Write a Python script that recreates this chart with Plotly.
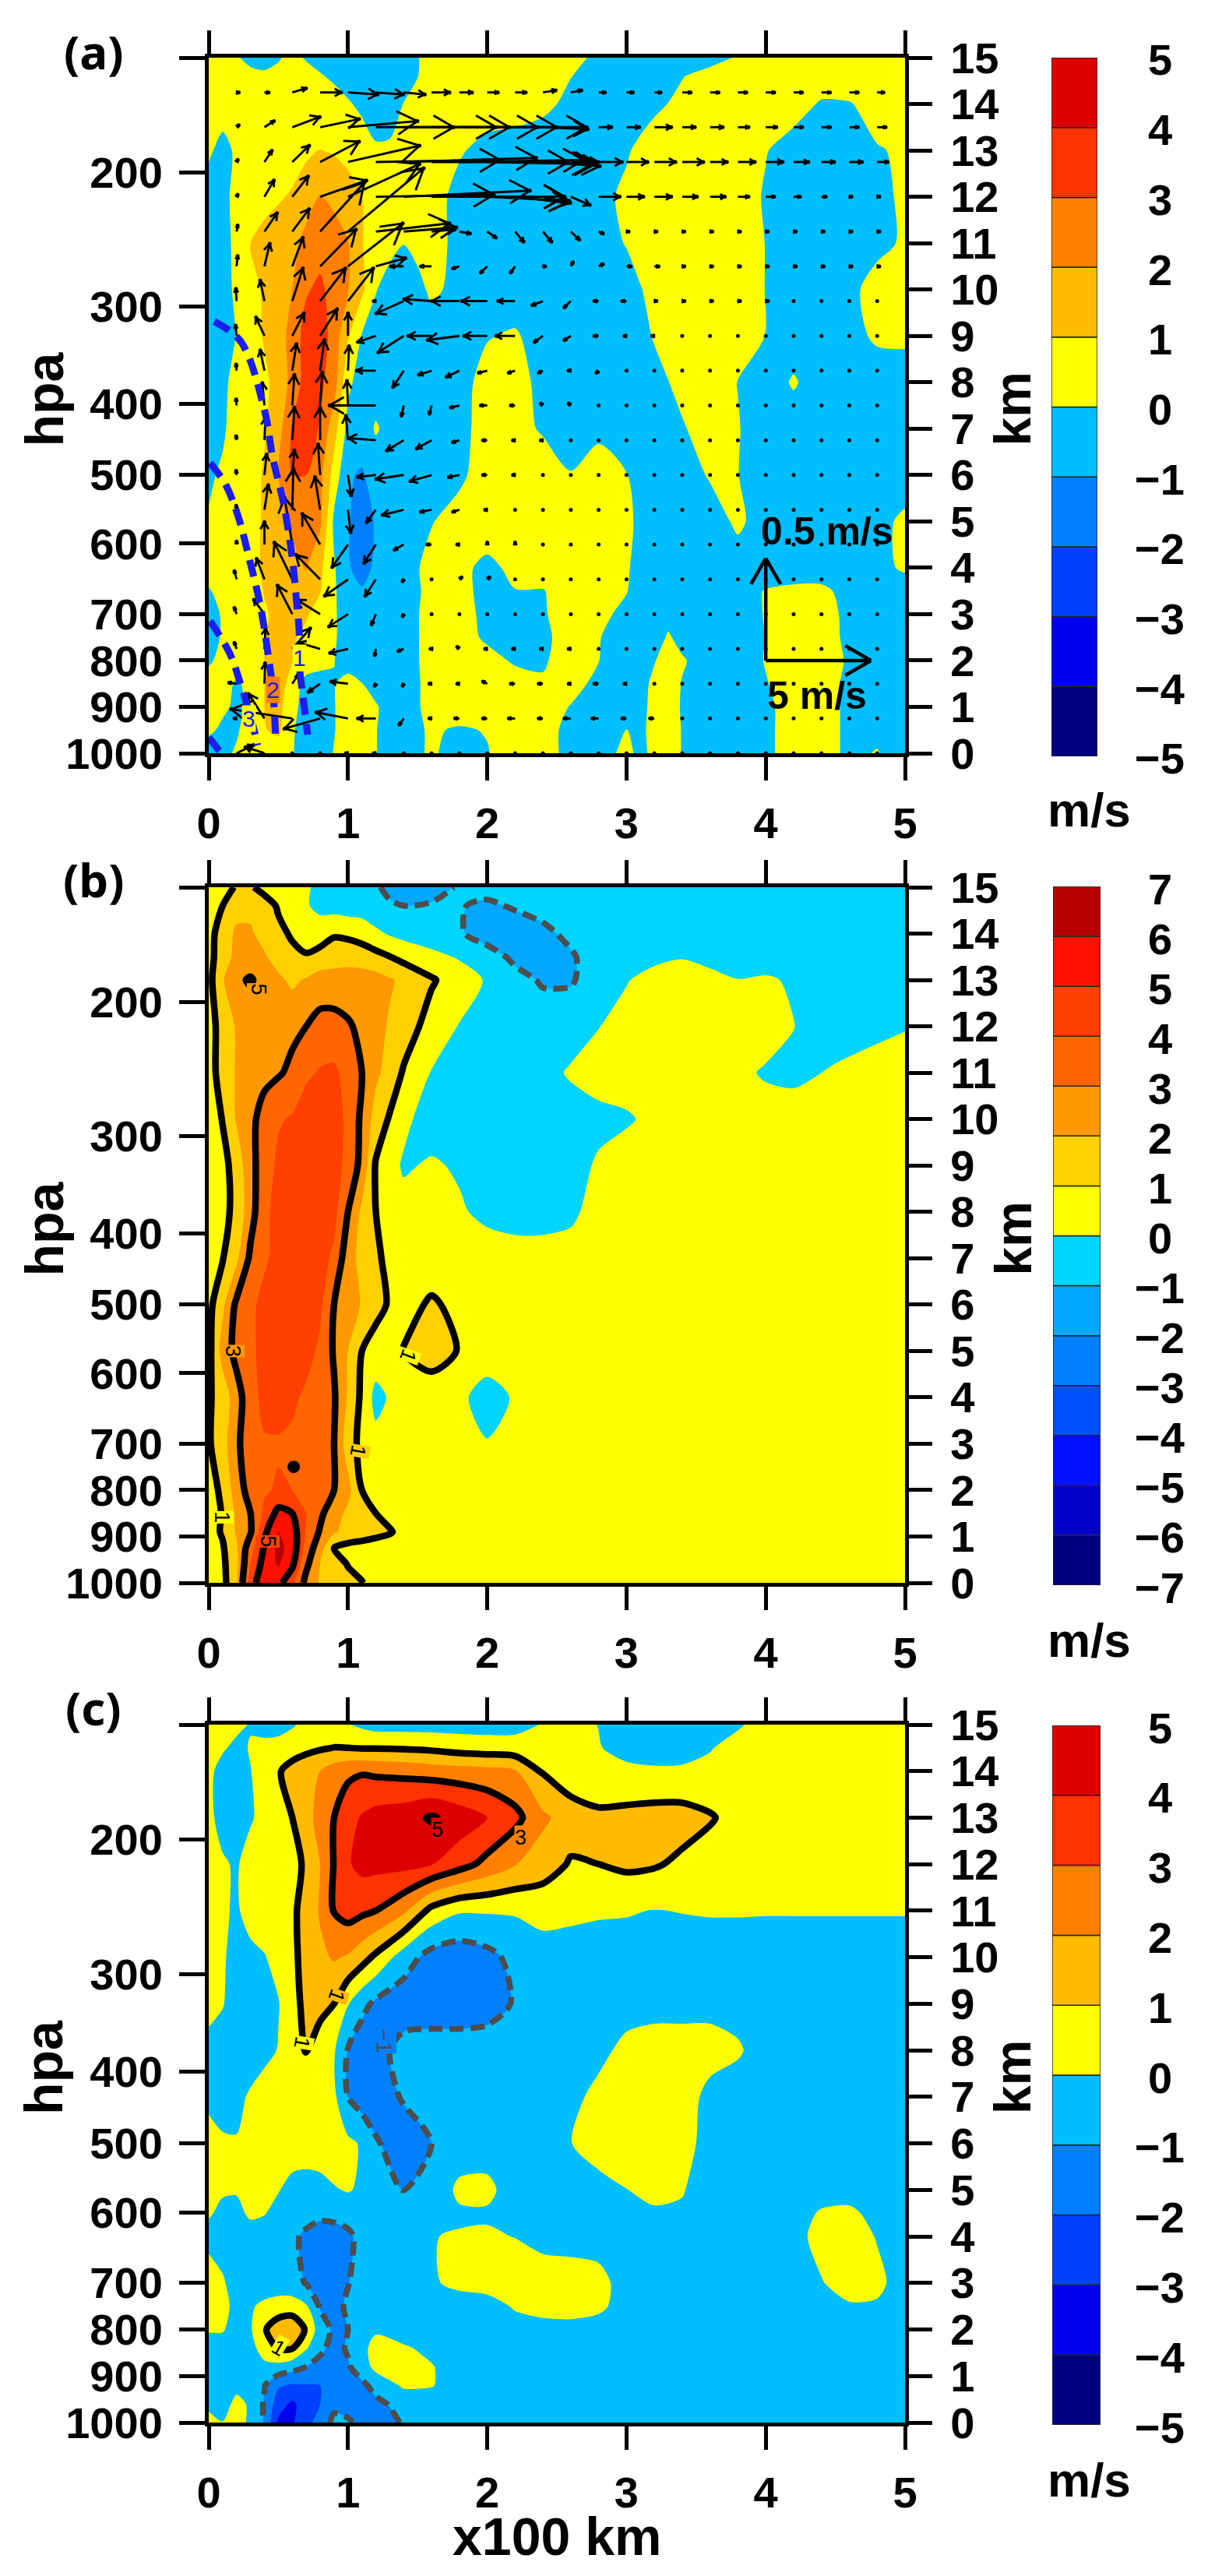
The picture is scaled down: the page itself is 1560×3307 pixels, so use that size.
import plotly.graph_objects as go

# ---------- grids (x100 km, km) ----------
XA = [0,.1,.2,.3,.4,.5,.6,.7,.8,.9, 1,1.1,1.2,1.3,1.4,1.5,1.6, 1.8,2,2.2,2.4,2.6,2.8,3, 3.1,3.2,3.3,3.4,3.6,3.8,4,4.2,4.4,4.6,4.8,5]
YA = [0,.5,1,1.5,2,2.5,3,3.5,4,5,6,7,8,9,10,11,12,13,14,14.6,15]
ZA = [
[-.3,-.2,.1,.4,.5,.4,.05,-.4,-.5,.05, .5,.4,.05,-.5,-.5,-.1,.1, -.3,-.05,.5,.4,-.3,-.5,.3, -.3,.3,.5,-.05,-.5,-.5,-.2,.4,.4,-.2,.05,-.5],
[.1,-.1,-.1,.4,.95,1.2,.1,-.4,-.5,-.05, .5,.4,.05,-.5,-.5,-.1,.1, -.1,.05,.5,.4,-.3,-.5,.02, -.2,.3,.5,-.05,-.5,-.5,-.2,.4,.4,-.2,-.2,-.5],
[.3,.1,-.1,.1,1.0,1.3,.3,-.4,-.5,-.05, .5,.4,.1,-.4,-.5,-.1,.4, .5,.5,.5,.5,-.05,-.5,-.5, -.3,.3,.5,-.1,-.5,-.5,-.2,.4,.4,-.2,-.5,-.5],
[.3,.3,-.1,.2,1.0,1.6,.5,-.3,-.5,-.05, .3,.02,-.4,-.5,-.5,-.1,.4, .5,.5,.5,.1,.4,-.3,-.5, -.3,.2,.5,-.05,-.5,-.5,-.05,.4,.4,-.2,-.5,-.5],
[-.1,.2,.4,.4,1.0,1.4,1.05,.5,.4,.02, -.4,-.5,-.5,-.5,-.5,-.05,.4, .5,.4,-.15,-.1,.4,.02,-.5, -.5,-.05,.4,.1,-.5,-.5,.05,.4,.4,-.1,-.5,-.5],
[-.2,.05,.3,.4,.95,1.5,1.1,.8,.5,.1, -.4,-.5,-.5,-.5,-.5,-.05,.4, .5,-.2,-.3,-.2,.4,.05,-.5, -.5,-.4,.1,-.3,-.5,-.5,.02,.4,.4,-.2,-.5,-.5],
[-.2,.05,.4,.5,.9,1.2,1.1,1.1,.6,.1, -.4,-.5,-.5,-.5,-.5,-.05,.4, .3,-.2,-.4,-.1,.5,.3,-.3, -.5,-.5,-.3,-.5,-.5,-.4,.05,.5,.5,-.3,-.5,-.5],
[-.05,.2,.4,.5,1.05,1.4,1.5,1.7,1.05,.1, -.5,-.9,-.5,-.5,-.5,-.1,.3, .3,-.3,-.02,-.05,.5,.5,.05, -.5,-.5,-.5,-.5,-.5,-.4,.05,.2,.2,-.3,-.5,-.5],
[.3,.4,.5,.6,1.2,1.5,1.7,2.05,1.2,.1, -.9,-1.4,-.8,-.5,-.5,-.05,.3, .2,-.2,.2,.5,.5,.5,.1, -.3,-.5,-.5,-.5,-.5,-.5,-.5,-.5,-.5,-.5,-.3,.15],
[.05,.4,.5,.7,1.1,1.7,2.2,2.6,2.2,-.2, -.9,-1.5,-.9,-.5,-.5,-.3,-.05, .4,.5,.5,.5,.5,.5,.2, -.2,-.5,-.5,-.5,-.5,.2,-.5,-.5,-.5,-.5,-.3,.2],
[-.1,.1,.4,.6,1.1,2,3,3,2.3,.6, -.9,-1.1,-.6,-.5,-.5,-.5,-.5, -.2,.5,.5,.5,.05,.4,.02, -.4,-.5,-.5,-.5,.1,.02,-.5,-.5,-.5,-.5,-.5,-.5],
[-.3,-.1,.3,.5,.9,1.6,3.1,3.6,2.9,1.4, -.3,-.5,.1,-.3,-.5,-.5,-.5, -.3,.4,.3,-.1,-.5,-.2,-.2, -.5,-.5,-.4,-.1,.5,.05,-.5,-.5,-.5,-.5,-.5,-.5],
[-.3,-.2,.3,.5,.8,1.4,2.3,3.5,3.2,2.5, .2,-.4,-.5,-.5,-.5,-.5,-.4, -.3,.3,.4,-.3,-.5,-.5,-.5, -.4,-.2,-.02,.3,.4,-.02,-.5,.1,-.5,-.5,-.5,-.5],
[-.3,-.2,.02,.5,1.1,1.5,2.4,3.4,3.5,2.6, 1.1,-.05,-.4,-.5,-.5,-.5,-.5, -.5,-.05,.1,-.4,-.5,-.5,-.3, -.2,.05,.4,.5,.5,.5,-.02,-.5,-.5,-.3,.15,.2],
[-.3,-.2,.1,.5,1.2,1.6,2,2.9,3.2,2.6, 2.05,1.2,.05,-.4,-.5,-.3,.2, -.3,-.5,-.5,-.5,-.5,-.5,-.4, -.05,.3,.4,.5,.5,.5,-.02,-.5,-.5,-.2,.3,.4],
[-.3,-.3,.2,1.05,1.3,1.5,1.7,2.3,2.6,2.4, 2.05,1.05,.5,.3,.02,.3,.4, -.3,-.5,-.5,-.5,-.5,-.4,.05, .4,.5,.5,.5,.5,.5,-.02,-.5,-.5,-.5,-.2,.1],
[-.3,-.2,.2,.5,.7,.9,1.1,1.6,2.05,1.8, 1.4,1,.6,.5,.5,.5,.4, -.3,-.5,-.5,-.5,-.5,-.3,.2, .4,.5,.5,.5,.5,.5,-.1,-.5,-.5,-.5,-.3,.2],
[.1,-.2,.1,.5,.5,.5,.6,.8,1.02,.9, .7,.5,.1,.1,.4,.5,.5, .1,-.3,-.5,-.5,-.5,-.4,-.1, .2,.5,.5,.5,.5,.5,.05,-.4,-.5,-.5,-.05,.1],
[.4,.3,.3,.5,.5,.5,.5,.5,.5,.5, .1,-.2,-.4,-.3,.02,.4,.5, .3,.5,.5,.2,-.2,-.5,-.5, -.4,-.2,.02,.3,.5,.5,.5,.4,-.1,-.05,.3,.5],
[.5,.5,.5,.3,.2,.3,.5,.4,.1,-.2, -.4,-.5,-.5,-.5,-.4,-.02,.4, .5,.5,.5,.3,.02,-.4,-.5, -.5,-.5,-.5,-.05,.4,.5,.5,.5,.5,.5,.5,.5],
[.5,.5,.1,-.3,-.4,-.1,.3,-.1,-.4,-.5, -.5,-.5,-.5,-.5,-.5,-.05,.4, .5,.5,.5,.5,.3,-.2,-.5, -.5,-.5,-.5,-.5,-.4,.1,.5,.5,.5,.5,.5,.5],
]

XB = [0,.1,.2,.3,.4,.5,.6,.7,.8,.9, 1,1.1,1.2,1.3,1.4,1.6, 1.8,2,2.2,2.4,2.6,2.8,3, 3.2,3.4,3.6,3.8,4,4.2,4.5,5]
YB = [0,.4,.75,1.1,1.5,2,3,4,5,6,7,8,9,10,11,12,13,13.5,14,14.6,15]
ZB = [
[.5,.7,1.9,4.5,5.8,5.3,4.2,2.7,1.9,1.5, 1.3,1.05,.5,.4,.3,.3, .3,.3,.3,.3,.3,.3,.3, .3,.3,.3,.3,.3,.3,.3,.3],
[.5,.8,1.8,4,5.4,6.1,5.2,3.2,2,1.5, .95,.6,.4,.4,.4,.4, .4,.4,.4,.4,.4,.4,.4, .4,.4,.4,.4,.4,.4,.4,.4],
[.5,.9,1.9,3.6,5.1,6.3,5.6,3.6,2.4,1, .7,.6,.5,.4,.4,.4, .4,.4,.4,.4,.4,.4,.4, .4,.4,.4,.4,.4,.4,.4,.4],
[.6,1.1,2.1,2.9,4.8,6,5.5,3.9,2.9,2.1, 1.7,1.5,1.3,1.1,.6,.4, .4,.4,.4,.4,.4,.4,.4, .4,.4,.4,.4,.4,.4,.4,.4],
[.6,1.05,2.2,3,4.2,5.3,5,4,3.2,2.4, 1.8,1.4,1,.6,.5,.4, .4,.4,.4,.4,.4,.4,.4, .4,.4,.4,.4,.4,.4,.4,.4],
[.6,1.2,2.5,3.4,3.9,4.1,4,3.9,3.4,3, 2.3,1,.5,.4,.4,.4, .4,.4,.4,.4,.4,.4,.4, .4,.4,.4,.4,.4,.4,.4,.4],
[.9,1.6,2.8,3.6,3.9,3.9,3.8,3.7,3.4,3, 1.5,.7,.3,.4,.4,.4, .4,.05,.4,.4,.4,.4,.4, .4,.4,.4,.4,.4,.4,.4,.4],
[.9,1.4,2.6,3.6,4.3,4.4,4.2,3.8,3.5,3.1, 1.9,.8,-.3,.1,.4,.5, .2,-.4,.1,.4,.4,.4,.4, .4,.4,.4,.4,.4,.4,.4,.4],
[.7,2.4,3.3,3.8,4.3,4.5,4.6,4.4,3.8,2.9, 2,1,.6,.7,1.05,1.4, .95,.5,.4,.4,.4,.4,.4, .4,.4,.4,.4,.4,.4,.4,.4],
[.7,1.8,3.2,3.7,4.4,4.6,4.7,4.6,4.2,3, 2.6,1.9,1.3,.9,.6,1.15, .7,.5,.4,.4,.4,.4,.4, .4,.4,.4,.4,.4,.4,.4,.4],
[.5,.95,1.8,3.2,3.8,4.4,4.6,4.6,4.4,3.8, 2.4,1.7,1.2,.7,.5,.4, .4,.4,.4,.4,.4,.4,.4, .4,.4,.4,.4,.4,.4,.4,.4],
[.4,.7,1.3,2.6,3.8,4.3,4.5,4.6,4.6,4.3, 3,1.8,1,.6,.3,.2, .1,-.2,-.4,-.4,-.2,.4,.4, .4,.4,.4,.4,.4,.4,.4,.4],
[.3,.7,1.4,2.7,3.5,4.2,4.5,4.7,4.7,4.4, 3.7,2.7,.9,.3,-.1,.1, -.1,-.4,-.4,-.4,-.3,.1,.4, .4,.4,.4,.4,.4,.4,.4,.4],
[.3,1.05,2.1,2.8,3.3,3.9,4.1,4.6,4.7,4.4, 3.8,2.8,1.6,.9,.2,-.4, -.5,-.5,-.5,-.5,-.4,-.2,-.1, .2,.4,.4,.4,.4,.4,.4,.4],
[.7,1.3,2.1,2.5,2.8,2.9,3.2,3.8,4.1,4.2, 3.6,3,2.2,1.6,.9,-.05, -.3,-.5,-.5,-.3,.1,.3,.4, .4,.4,.4,.2,-.1,-.2,.1,.4],
[.6,1.4,2.1,2.3,2.5,2.7,2.8,3,3.3,3.3, 3.1,2.8,2.3,1.9,1.5,.6, -.05,-.4,-.5,-.5,-.4,-.02,.3, .4,.4,.4,.4,.4,.02,-.4,-.05],
[.7,1.9,2.8,3.1,2.6,2.2,1.8,2.1,2.5,2.5, 2.5,2.5,2.4,2.1,1.8,1.1, .5,-.1,-.7,-1.1,-1.1,-.5,-.05, .3,.4,.2,.02,.1,-.1,-.5,-.5],
[.7,1.5,2.3,2.4,2.1,1.6,1.2,1.1,1.3,1.5, 1.6,1.5,1.3,1.02,.7,.3, -.1,-.6,-1.2,-1.4,-1.1,-.6,-.4, -.2,-.05,-.2,-.4,-.4,-.5,-.5,-.5],
[.7,1.4,2.2,2.1,1.7,1.2,.9,.5,.6,.9, .8,.6,.2,-.1,-.3,-.6, -.9,-1.4,-1.5,-1.2,-.8,-.5,-.5, -.5,-.5,-.5,-.5,-.5,-.5,-.5,-.5],
[.6,1,1.6,1.8,1.4,.9,.5,.1,-.3,-.4, -.5,-.5,-.7,-.9,-1,-.9, -.95,-1.15,-.9,-.7,-.5,-.5,-.5, -.5,-.5,-.5,-.5,-.5,-.5,-.5,-.5],
[.4,.6,1.1,1.1,.7,.5,.3,.1,-.2,-.4, -.5,-.6,-.9,-1.2,-1.4,-1.4, -.9,-.7,-.5,-.5,-.5,-.5,-.5, -.5,-.5,-.5,-.5,-.5,-.5,-.5,-.5],
]

XC = [0,.1,.2,.3,.4,.5,.6,.7,.8,.9, 1,1.1,1.2,1.4,1.6, 1.8,2,2.2,2.4,2.6,2.8,3, 3.2,3.4,3.6,3.8,4,4.2,4.4,4.6,4.8,5]
YC = [0,.4,.8,1.2,1.6,2,2.5,3,4,4.5,5,6,7,8,9,10,11,12,13,14,14.5,15]
ZC = [
[.3,.02,.2,-.1,-1.1,-3.2,-3.1,-2.4,-1.5,-.8, -.9,-1.2,-1.3,-.95,-.5, -.4,-.4,-.4,-.4,-.4,-.4,-.4, -.4,-.4,-.4,-.4,-.4,-.4,-.4,-.4,-.4,-.4],
[-.2,-.3,.2,-.1,-1.1,-2.5,-3.2,-2.5,-2,-1.2, -1.3,-1.5,-1.2,-.7,-.4, -.4,-.4,-.4,-.4,-.4,-.4,-.4, -.4,-.4,-.4,-.4,-.4,-.4,-.4,-.4,-.4,-.4],
[-.4,-.4,-.2,-.5,-.95,-1.9,-2.1,-2.05,-2,-1.7, -1.5,-1.2,-.7,.15,.05, -.4,-.4,-.4,-.4,-.4,-.4,-.4, -.4,-.4,-.4,-.4,-.4,-.4,-.4,-.4,-.4,-.4],
[-.5,-.5,-.5,-.4,-.2,-.3,-.6,-1,-1.3,-1.3, -1.1,-.5,.3,.4,.05, -.4,-.4,-.4,-.4,-.4,-.4,-.4, -.4,-.4,-.4,-.4,-.4,-.4,-.4,-.4,-.4,-.4],
[-.5,-.5,-.5,-.3,.4,1.1,1.05,.1,-.8,-1.3, -.9,-.2,.25,.1,-.2, -.4,-.4,-.4,-.4,-.4,-.4,-.4, -.4,-.4,-.4,-.4,-.4,-.4,-.4,-.4,-.4,-.4],
[.1,.1,-.5,-.1,.9,1.6,1.7,.9,-.5,-1.2, -1,-.5,-.1,-.4,-.4, -.4,-.4,-.4,-.4,-.4,-.4,-.4, -.4,-.4,-.4,-.4,-.4,-.4,-.4,-.4,-.4,-.4],
[.5,.3,-.3,-.1,.2,.4,.5,.1,-1.1,-1.4, -.8,-.5,-.4,-.4,-.4, -.4,-.4,.1,.4,.5,.2,-.4, -.4,-.4,-.4,-.4,-.4,-.4,-.4,-.1,-.1,-.4],
[.5,.1,-.4,-.5,-.5,-.5,-.7,-1.05,-1.4,-1.5, -1.05,-.5,-.4,-.2,-.1, .2,.4,.5,.5,.5,.3,-.4, -.4,-.4,-.4,-.4,-.4,-.4,-.05,.4,.2,-.4],
[-.3,-.4,-.5,-.5,-.5,-.5,-.8,-1.2,-1.6,-1.6, -1.3,-.5,-.4,-.3,-.02, .05,.1,-.02,-.3,-.4,-.4,-.4, -.4,-.4,-.4,-.4,-.4,-.3,.3,.4,-.05,-.4],
[.1,-.2,-.3,.2,.05,-.3,-.5,-.6,-.7,-.6, -.4,-.4,-.5,-.4,-.2, -.1,-.1,-.3,-.4,-.4,-.4,-.4, -.2,-.1,-.4,-.4,-.4,-.4,.1,.2,-.3,-.4],
[.3,.1,.1,.3,.3,.05,-.3,-.4,-.3,-.05, .05,-.1,-.5,-1.05,-.5, .15,.2,-.4,-.4,-.4,-.3,-.02, .4,.05,-.4,-.4,-.4,-.4,-.4,-.4,-.4,-.4],
[.5,.1,.05,.4,.5,.5,.5,.5,.5,.4, .2,-.1,-.9,-1.5,-1, -.4,-.4,-.4,-.4,-.02,.4,.5, .5,.4,-.4,-.4,-.4,-.4,-.4,-.4,-.4,-.4],
[-.3,-.3,-.2,.1,.5,.5,.5,.5,.5,.2, -1,-1.5,-1.5,-.9,-.4, -.4,-.4,-.4,-.4,-.2,.2,.5, .5,.5,-.3,-.4,-.4,-.4,-.4,-.4,-.4,-.4],
[-.4,-.4,-.4,-.4,-.3,.05,.4,1.05,.5,.1, -1.05,-1.6,-1.4,-.6,-.4, -.4,-.4,-.4,-.4,-.4,-.2,.2, .4,.4,.4,.1,-.4,-.4,-.4,-.4,-.4,-.4],
[.4,.05,-.4,-.4,-.3,-.05,.6,1.3,1.3,1, .05,-.7,-1.2,-1.6,-1.7, -1.7,-1.5,-.9,-.4,-.4,-.4,-.3, -.3,-.3,-.3,-.3,-.3,-.3,-.3,-.3,-.3,-.3],
[.5,.1,-.3,-.2,-.05,.3,.8,1.3,1.8,2.1, 1.9,1.4,.8,-.5,-1.4, -1.6,-1.3,-.7,-.4,-.4,-.4,-.3, -.3,-.3,-.3,-.3,-.3,-.3,-.3,-.3,-.3,-.3],
[.4,.1,-.1,.3,.5,.5,.8,1.4,2.1,3.05, 3.4,3.2,3,2.2,.7, .1,.1,.1,.3,.2,.1,.05, -.02,.02,.05,.05,.04,.04,.04,.04,.04,.04],
[.3,.1,-.1,.4,.5,.5,.8,1.1,2,3.05, 3.9,4.3,4.3,4.3,4.05, 3.4,2.7,2.05,1.5,.9,1,1.2, 1.1,.8,.5,.4,.3,.3,.3,.3,.3,.3],
[.2,-.3,-.4,-.1,.3,.6,1,1.6,2.4,3, 3.6,4.1,4.4,4.6,5.1, 4.6,4,3.3,2.2,1.5,1.2,1.3, 1.4,1.4,1.1,.6,.4,.3,.3,.3,.3,.3],
[.2,-.3,-.4,-.02,.3,.9,1.4,1.8,2,2.5, 2.8,2.9,2.8,2.7,2.5, 2.4,2.3,2.1,.9,.4,.3,.2, .15,.15,.2,.3,.3,.3,.3,.3,.3,.3],
[.3,.1,-.2,.05,.3,.4,.5,.7,.9,1.02, 1,.95,.95,.9,.8, .6,.5,.4,.3,.3,.05,-.3, -.5,-.4,-.05,.3,.4,.4,.4,.4,.4,.4],
[.4,.3,.2,-.05,-.4,-.4,-.1,.2,.3,.2, .05,-.2,-.4,-.4,-.4, -.4,-.4,-.3,.05,.3,-.02,-.4, -.5,-.5,-.4,-.1,.3,.4,.4,.4,.4,.4],
]

# ---------- vectors in panel (a): m/s, rows top to bottom ----------
VX = [.2,.4,.6,.8,1,1.2,1.4,1.6,1.8,2,2.2,2.4,2.6,2.8,3,3.2,3.4,3.6,3.8,4,4.2,4.4,4.6,4.8]
VY = [14.25,13.5,12.75,12,11.25,10.5,9.75,9,8.25,7.5,6.75,6,5.25,4.5,3.75,3,2.25,1.5,.75,0]
U = [
[.1,.2,.65,1,1.4,1.3,1,.85,.6,.5,.5,.6,.5,.3,.3,.3,.4,.4,.4,.4,.4,.4,.4,.3],
[.1,.45,1.3,1.85,3.3,3.7,4.4,3.7,3.7,3.3,3.4,2.1,.8,.6,.6,.8,.6,.6,.5,.5,.4,.4,.4,.4],
[.05,.35,.8,1.85,3.4,5.9,6.3,6.5,5.9,5,3.8,2.7,1.3,1.1,1,1,1,.8,.8,.8,.7,.6,.6,.5],
[.05,.45,.75,2.2,3.4,5.6,6,6.3,5,3.9,2.5,1.3,.9,1,.8,.8,.7,.7,.5,.4,.3,.2,.1,.1],
[.05,.6,.8,2.1,3.6,3.5,2.5,1.1,.5,.4,.4,.4,.4,.2,.1,.1,.1,.1,.1,.1,.1,.1,.1,.1],
[.05,.25,.5,1.7,2.6,1.4,-.6,-.5,-.3,-.3,-.2,.1,.1,.2,.2,.2,.1,.1,.1,.1,.1,.1,.1,.1],
[-.03,-.2,.5,1.2,1.2,-.1,-1.3,-1.3,-1.3,-1.2,-.8,-.5,-.3,-.2,-.2,.1,.1,.1,.1,.1,0,0,0,0],
[-.05,-.4,.55,.8,0,-.85,-1.2,-1.1,-1.5,-1.1,-.9,-.4,-.3,-.2,-.1,-.1,0,0,0,0,0,0,0,0],
[-.02,-.2,.2,.2,.05,-.9,-.5,-.6,-.6,-.4,-.3,-.2,-.1,-.1,0,0,0,0,0,0,0,0,0,0],
[-.02,-.1,.1,.1,-.05,-2.2,-.1,-.1,-.4,-.3,-.2,-.1,-.1,0,0,0,0,0,0,0,0,0,0,0],
[-.02,.05,.1,0,-.1,-1.3,-.8,-.7,-.3,-.2,-.1,-.1,0,0,0,0,0,0,0,0,0,0,0,0],
[-.02,.1,.1,-.1,.15,-.85,-1.3,-1,-.5,-.2,-.1,0,0,0,0,0,0,0,0,0,0,0,0,0],
[-.02,.18,.05,-.25,.12,-.43,-1,-.5,-.3,-.1,0,0,0,0,0,0,0,0,0,0,0,0,0,0],
[0,0,-.37,-.85,-.75,-.55,-.43,-.2,-.1,0,0,0,0,0,0,0,0,0,0,0,0,0,0,0],
[-.1,-.37,-.85,-1.15,-1.1,-.5,-.05,0,.1,.1,0,0,0,0,0,0,0,0,0,0,0,0,0,0],
[-.1,-.5,-.7,-1.1,-.9,-.2,-.05,0,0,0,0,0,0,0,0,0,0,0,0,0,0,0,0,0],
[-.1,.05,.85,-1,-.85,-.05,-.25,-.05,-.1,-.1,-.1,-.1,-.1,0,0,0,0,0,0,0,0,0,0,0],
[-.35,.03,.25,-.55,-.8,-.05,-.05,-.1,-.1,-.2,-.2,-.2,-.1,-.2,-.1,0,0,0,0,0,0,0,0,0],
[-.1,-.75,-2.9,-1.7,-1.5,-.85,-.2,-.1,-.2,-.2,-.3,-.2,-.3,-.3,-.2,-.2,0,0,0,0,0,0,0,0],
[.8,-.9,0,0,-.1,-.1,0,0,0,0,0,0,0,0,0,0,0,0,0,0,0,0,0,0],
]
W = [
[0,0,.02,0,-.01,-.01,-.01,0,0,0,0,.01,.01,0,0,0,0,0,0,0,0,0,0,0],
[.01,.03,.05,.04,.03,0,0,0,0,0,0,-.01,-.01,0,0,0,0,0,0,0,0,0,0,0],
[.01,.055,.08,.1,.08,.01,.02,0,.01,-.01,-.01,-.02,0,0,0,0,0,0,0,0,0,0,0,0],
[.01,.08,.1,.08,.16,.01,.03,0,0,-.02,-.03,-.03,-.04,0,0,0,0,0,0,0,0,0,0,0],
[.03,.09,.11,.24,.31,.04,.02,.01,-.01,-.03,-.05,-.05,-.04,-.01,0,0,0,0,0,0,0,0,0,0],
[.05,.11,.14,.18,.21,.04,0,0,-.01,-.03,-.03,0,.02,.01,0,0,0,0,0,0,0,0,0,0],
[.06,.1,.16,.16,.16,0,-.06,.01,0,0,0,-.02,-.03,0,0,0,0,0,0,0,0,0,0,0],
[.05,.09,.11,.13,.11,-.03,-.08,0,-.02,0,0,-.03,-.02,0,0,0,0,0,0,0,0,0,0,0],
[.03,.1,.13,.15,.12,0,-.08,-.02,-.03,-.01,-.01,-.01,0,-.01,0,0,0,0,0,0,0,0,0,0],
[.03,.11,.15,.16,.12,0,-.05,-.04,-.01,0,0,.01,.01,0,0,0,0,0,0,0,0,0,0,0],
[.02,.11,.16,.16,.12,.01,-.05,-.04,-.01,0,0,0,0,0,0,0,0,0,0,0,0,0,0,0],
[.02,.1,.12,.15,-.1,-.01,-.02,-.03,-.01,0,0,0,0,0,0,0,0,0,0,0,0,0,0,0],
[.02,.12,.2,.16,-.11,-.06,-.025,-.01,-.01,0,0,0,0,0,0,0,0,0,0,0,0,0,0,0],
[.015,.11,.23,.15,-.11,-.09,-.025,0,0,.01,.01,0,0,0,0,0,0,0,0,0,0,0,0,0],
[.04,.1,.18,.12,-.08,-.08,-.01,0,.01,.01,0,0,0,0,0,0,0,0,0,0,0,0,0,0],
[.03,.07,.14,.07,-.06,-.05,-.01,0,0,0,0,0,0,0,0,0,0,0,0,0,0,0,0,0],
[.03,.1,.1,.03,-.02,-.03,-.01,0,.01,0,0,0,0,0,0,0,0,0,0,0,0,0,0,0],
[.005,.1,.04,-.04,.01,-.01,-.01,0,0,.01,0,0,0,0,0,0,0,0,0,0,0,0,0,0],
[0,.12,.045,-.05,.03,0,-.03,0,0,0,0,0,0,0,0,0,0,0,0,0,0,0,0,0],
[.04,.03,0,0,0,0,0,0,0,0,0,0,0,0,0,0,0,0,0,0,0,0,0,0],
]
REF_X, REF_Y, REF_U, REF_W = [4, 4], [2, 2], [5, 0], [0, .5]

# dashed blue lines in panel (a)
BL1X = [.04,.23,.40,.46,.54,.6,.63,.65,.65,.68,.71]
BL1Y = [9.31,8.88,7.40,6.37,5.35,4.21,3.3,2.6,1.94,1.14,.4]
BL2X = [.01,.12,.21,.29,.37,.43,.46,.48]
BL2Y = [6.26,5.8,5.12,4.21,3.19,2.05,1.37,.4]
BL3X = [.01,.15,.23,.32,.35]
BL3Y = [2.85,2.16,1.48,.57,.17]
BL4X = [0,.09]
BL4Y = [.34,0]

# ---------- axes labels and colours ----------
KM_TICKS = list(range(0, 16))
HPA_POS = [0,1,2,3,4.52,6.01,7.54,9.63,12.53,15]
HPA_TXT = ["1000","900","800","700","600","500","400","300","200",""]
X_TICKS = [0,1,2,3,4,5]
COL10 = ["#000080","#0000F0","#0040FF","#0080FF","#00BFFF","#FFFF00","#FFBB00","#FF8000","#FF3300","#DD0000"]
COL14 = ["#000080","#0000C8","#0010FF","#0050FF","#0080FF","#00A8FF","#00D5FF","#FFFF00","#FFD000","#FF9900","#FF6600","#FF4000","#FF1000","#B80000"]
LV5 = list(range(-5, 6))
LV7 = list(range(-7, 8))

W_PX, H_PX = 1560, 3307
FONT = "Liberation Sans"
X0, X1 = 268, 1162
PANELS = [
    dict(name="(a)", xa="x", yl="y", yr="y2", xb="x4", yb="y7", top=74, bot=967, X=XA, Y=YA, Z=ZA, cols=COL10, lv=LV5, lab_y=66, bx=(1350,1409), by=(74,971)),
    dict(name="(b)", xa="x2", yl="y3", yr="y4", xb="x5", yb="y8", top=1139, bot=2032, X=XB, Y=YB, Z=ZB, cols=COL14, lv=LV7, lab_y=1129, bx=(1352,1413), by=(1138,2035)),
    dict(name="(c)", xa="x3", yl="y5", yr="y6", xb="x6", yb="y9", top=2214, bot=3110, X=XC, Y=YC, Z=ZC, cols=COL10, lv=LV5, lab_y=2192, bx=(1351,1413), by=(2215,3113)),
]
for Pn in PANELS:
    for r in Pn["Z"]:
        assert len(r) == len(Pn["X"]), (Pn["name"], len(r))
    assert len(Pn["Z"]) == len(Pn["Y"])

def px(x): return x / W_PX
def py(y): return 1 - y / H_PX
def key(a):
    return ("xaxis" if a[0] == "x" else "yaxis") + a[1:]

fig = go.Figure()
ann = []
def txt(x, y, s, size=56, angle=0, xanchor="center", bold=True, family=FONT, color="black"):
    ann.append(dict(x=px(x), y=py(y), xref="paper", yref="paper", text=s, showarrow=False,
                    xanchor=xanchor, yanchor="middle", textangle=angle,
                    font=dict(family=family, size=size, color=color, weight="bold" if bold else "normal")))
def clabel(xa, ya, x, y, s, bg, angle=90, color="black", size=27):
    ann.append(dict(x=x, y=y, xref=xa, yref=ya, text=s, showarrow=False, textangle=angle, bgcolor=bg,
                    borderpad=0, font=dict(family=FONT, size=size, color=color)))

layout = dict(width=W_PX, height=H_PX, margin=dict(l=0, r=0, t=0, b=0, autoexpand=False), paper_bgcolor="white",
              plot_bgcolor="white", showlegend=False, hovermode=False, barmode="overlay")

for i, Pn in enumerate(PANELS):
    top, bot = Pn["top"], Pn["bot"]
    lv, cols = Pn["lv"], Pn["cols"]
    nc = len(lv)
    scale = [[0, cols[0]]] + [[(k + 1) / nc, c] for k, c in enumerate(cols)] + [[1, cols[-1]]]
    xa, yl, yr = Pn["xa"], Pn["yl"], Pn["yr"]
    fig.add_trace(go.Contour(x=Pn["X"], y=Pn["Y"], z=Pn["Z"], xaxis=xa, yaxis=yl, colorscale=scale, autocontour=False,
                             contours=dict(coloring="fill", showlines=False, start=lv[0], end=lv[-1], size=1),
                             line=dict(width=0, smoothing=.8), showscale=False, hoverinfo="skip"))
    if i > 0:
        fig.add_trace(go.Contour(x=Pn["X"], y=Pn["Y"], z=Pn["Z"], xaxis=xa, yaxis=yl, autocontour=False, showscale=False,
                                 contours=dict(coloring="none", start=1, end=5, size=2),
                                 line=dict(color="black", width=8.5, smoothing=.8), hoverinfo="skip"))
        fig.add_trace(go.Contour(x=Pn["X"], y=Pn["Y"], z=Pn["Z"], xaxis=xa, yaxis=yl, autocontour=False, showscale=False,
                                 contours=dict(coloring="none", start=-1, end=-1, size=1),
                                 line=dict(color="#4d4d4d", width=7.5, dash="18px,9px", smoothing=.8), hoverinfo="skip"))
    # dummy trace so that the right-hand km axis is drawn
    fig.add_trace(go.Scatter(x=[0], y=[0], xaxis=xa, yaxis=yr, mode="markers", marker=dict(opacity=0, size=1), hoverinfo="skip"))

    # colour bar as a stack of bands
    xb, yb = Pn["xb"], Pn["yb"]
    for k, c in enumerate(cols):
        fig.add_trace(go.Bar(x=[0], y=[1], base=[lv[k]], width=[1], xaxis=xb, yaxis=yb, marker=dict(color=c, line=dict(color="#262626", width=1.5)), hoverinfo="skip"))
    layout[key(xb)] = dict(domain=[px(Pn["bx"][0]), px(Pn["bx"][1])], range=[-.5, .5], anchor=yb, visible=False)
    layout[key(yb)] = dict(domain=[py(Pn["by"][1]), py(Pn["by"][0])], range=[lv[0], lv[-1]], anchor=xb, visible=False)

    dom_y = [py(bot), py(top)]
    tfont = dict(family=FONT, size=56, color="black", weight="bold")
    layout[key(xa)] = dict(domain=[px(X0), px(X1)], range=[0, 5], anchor=yl, tickmode="array", tickvals=X_TICKS,
                           ticks="outside", ticklen=30, tickwidth=5, tickcolor="black", showline=True, linecolor="black",
                           linewidth=5, mirror="ticks", tickfont=tfont, showgrid=False, zeroline=False, ticklabelstandoff=7)
    layout[key(yl)] = dict(domain=dom_y, range=[0, 15], anchor=xa, tickmode="array", tickvals=HPA_POS, ticktext=HPA_TXT,
                           ticks="outside", ticklen=33, tickwidth=5, tickcolor="black", showline=True, linecolor="black",
                           linewidth=5, tickfont=tfont, showgrid=False, zeroline=False, ticklabelstandoff=10)
    layout[key(yr)] = dict(domain=dom_y, range=[0, 15], anchor=xa, side="right", overlaying=yl, tickmode="array",
                           tickvals=KM_TICKS, ticks="outside", ticklen=30, tickwidth=5, tickcolor="black", showline=True,
                           linecolor="black", linewidth=5, tickfont=tfont, showgrid=False, zeroline=False, ticklabelstandoff=12)

    # texts
    txt(120, Pn["lab_y"], Pn["name"], size=60, family="Noto Sans", bold=True)
    txt(56, (top + bot) / 2 - 8, "hpa", size=68, angle=-90)
    txt(1300, (top + bot) / 2 + 5, "km", size=66, angle=-90)
    txt(1398, bot + 73, "m/s", size=62)
    n = len(lv) - 1
    for k, v in enumerate(lv):
        yy = Pn["by"][1] - (Pn["by"][1] - Pn["by"][0]) * k / n + 3
        txt(1489, yy, str(v).replace("-", "\u2212"), size=56)

txt(715, 3256, "x100 km", size=68)

# ---------- vectors for panel (a) ----------
SX, SY = (X1 - X0) / 5, 59.5   # pixels per x unit / per km
KU, KW = 27.0, 262.0           # pixels per m/s
def add_arrow(xs, ys, x, y, u, w, cap=30):
    dx, dy = u * KU, w * KW
    L = (dx * dx + dy * dy) ** .5
    if L < 1e-6:
        return
    head = min(max(.36 * L, 4), cap)
    ux, uy = dx / L, dy / L
    ex, ey = x + dx / SX, y + dy / SY
    xs += [x, ex, None]
    ys += [y, ey, None]
    for sgn in (1, -1):
        c, s = .866, .5 * sgn
        bx, by = -(ux * c - uy * s) * head, -(ux * s + uy * c) * head
        xs += [ex, ex + bx / SX, None]
        ys += [ey, ey + by / SY, None]

vx, vy = [], []
dx_, dy_ = [], []
for r, y in enumerate(VY):
    for c, x in enumerate(VX):
        add_arrow(vx, vy, x, y, U[r][c], W[r][c])
        dx_.append(x + U[r][c] * KU / SX)
        dy_.append(y + W[r][c] * KW / SY)
fig.add_trace(go.Scatter(x=dx_, y=dy_, xaxis="x", yaxis="y", mode="markers", marker=dict(color="black", size=5), hoverinfo="skip", cliponaxis=False))
fig.add_trace(go.Scatter(x=vx, y=vy, xaxis="x", yaxis="y", mode="lines", line=dict(color="black", width=2.9), hoverinfo="skip"))
rx, ry = [], []
for x, y, u, w in zip(REF_X, REF_Y, REF_U, REF_W):
    add_arrow(rx, ry, x, y, u, w, cap=38)
fig.add_trace(go.Scatter(x=rx, y=ry, xaxis="x", yaxis="y", mode="lines", line=dict(color="black", width=4.5), hoverinfo="skip"))
for bx, by in ((BL1X, BL1Y), (BL2X, BL2Y), (BL3X, BL3Y), (BL4X, BL4Y)):
    fig.add_trace(go.Scatter(x=bx, y=by, xaxis="x", yaxis="y", mode="lines", hoverinfo="skip",
                             line=dict(color="#1c1cf0", width=9, dash="22px,12px", shape="spline")))
ann.append(dict(x=4.44, y=4.78, xref="x", yref="y", text="0.5 m/s", showarrow=False,
                font=dict(family=FONT, size=50, color="black", weight="bold")))
ann.append(dict(x=4.37, y=1.25, xref="x", yref="y", text="5 m/s", showarrow=False,
                font=dict(family=FONT, size=50, color="black", weight="bold")))

# contour labels
clabel("x", "y", .65, 2.05, "1", "#FFFF00", 0, "#1c1cf0", 30)
clabel("x", "y", .46, 1.37, "2", "#FF8000", 0, "#1c1cf0", 30)
clabel("x", "y", .29, .74, "3", "#FFFF00", 0, "#1c1cf0", 30)
clabel("x2", "y3", .17, 5.0, "3", "#FF9900")
clabel("x2", "y3", .09, 1.42, "1", "#FFFF00")
clabel("x2", "y3", 1.07, 2.85, "1", "#FFD000", 100)
clabel("x2", "y3", 1.43, 4.9, "1", "#FFFF00", 110)
clabel("x2", "y3", .42, .9, "5", "#FF4000")
clabel("x2", "y3", .36, 12.8, "5", "#FF9900", 90)
clabel("x3", "y5", .92, 9.18, "1", "#FFBB00", 110)
clabel("x3", "y5", .67, 8.16, "1", "#FFFF00", 100)
clabel("x3", "y5", 2.24, 12.58, "3", "#FF8000", 0)
clabel("x3", "y5", 1.64, 12.74, "5", "#DD0000", 0)
clabel("x3", "y5", .5, 1.6, "1", "#FFFF00", 30)
clabel("x3", "y5", 1.26, 8.2, "\u22121", "#0080FF", 90, "#4d4d4d")

SPOT_X, SPOT_Y = [.61], [2.5]
fig.add_trace(go.Scatter(x=SPOT_X, y=SPOT_Y, xaxis="x2", yaxis="y3", mode="markers", marker=dict(color="black", size=16), hoverinfo="skip"))

layout["annotations"] = ann
fig.update_layout(**layout)
fig.write_html("out.html", post_script="document.body.style.margin='0';", config=dict(responsive=False, displayModeBar=False))
